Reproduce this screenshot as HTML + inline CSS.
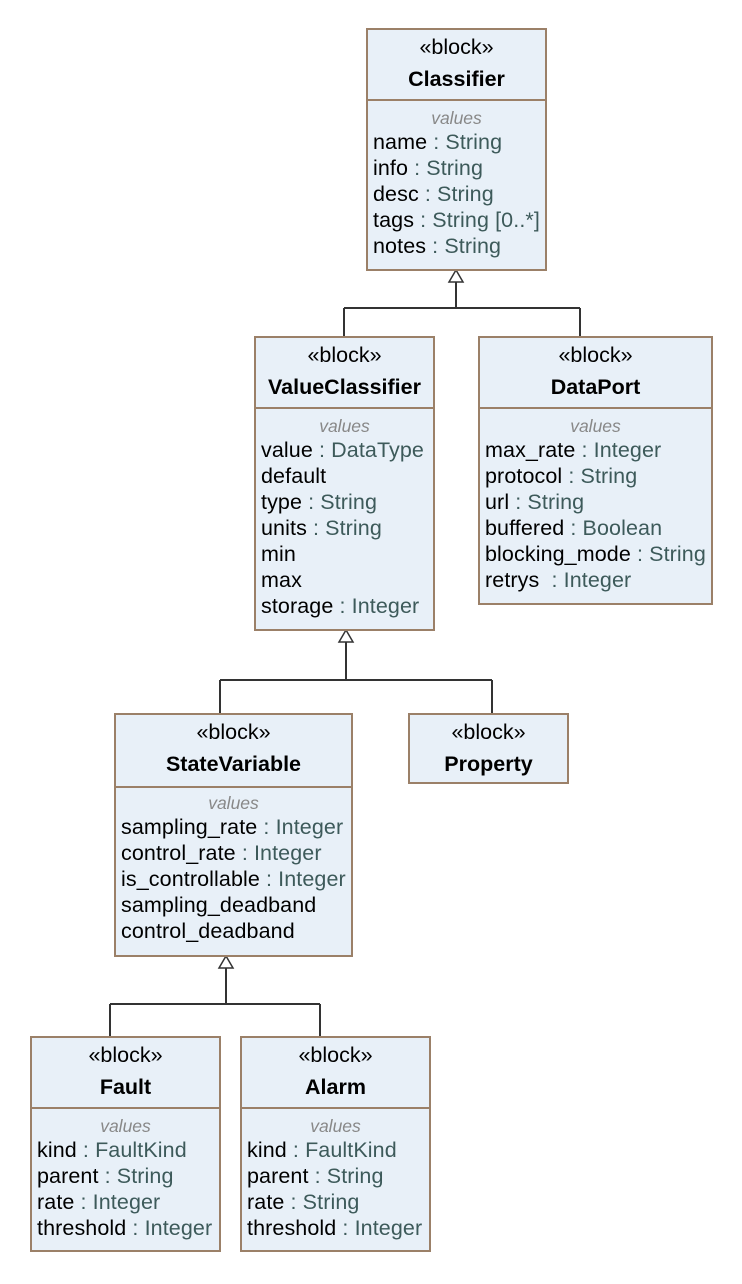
<!DOCTYPE html>
<html><head><style>
body{margin:0;width:742px;height:1284px;background:#fff;position:relative;font-family:"Liberation Sans",sans-serif;overflow:hidden}
.b{position:absolute;box-sizing:border-box;border:2px solid #9b8068;background:#e8f0f8}
.h{border-bottom:2px solid #9b8068;text-align:center;box-sizing:border-box;font-size:21.5px;color:#000}
.h .s{position:absolute;left:0;right:0;top:5px}
.h .n{position:absolute;left:0;right:0;top:37px;font-weight:bold}
.v{position:absolute;left:0;right:0;top:78px;text-align:center;font-style:italic;color:#888;font-size:17.5px}
.a{position:absolute;left:5px;top:99px;font-size:21.5px;line-height:26px;color:#000;white-space:nowrap;letter-spacing:0.1px}
.t{color:#3d5a5a}
svg{position:absolute;left:0;top:0}
</style></head><body>
<svg width="742" height="1284">
<g stroke="#333" stroke-width="2" fill="none">
<path d="M456 282V308M344 308H580M344 308V336M580 308V336"/>
<path d="M346 642V680M220 680H492M220 680V713M492 680V713"/>
<path d="M226 968V1004M110 1004H320M110 1004V1036M320 1004V1036"/>
</g>
<g stroke="#333" stroke-width="1.5" fill="#fff">
<path d="M456 270L449 282H463Z"/><path d="M346 630L339 642H353Z"/><path d="M226 956L219 968H233Z"/>
</g>
</svg>

<div class="b" style="left:366px;top:28px;width:181px;height:243px">
<div class="h" style="height:71px"><div class="s">«block»</div><div class="n">Classifier</div></div>
<div class="v">values</div>
<div class="a">name <span class="t">: String</span><br>info <span class="t">: String</span><br>desc <span class="t">: String</span><br>tags <span class="t">: String [0..*]</span><br>notes <span class="t">: String</span></div>
</div>

<div class="b" style="left:254px;top:336px;width:181px;height:295px">
<div class="h" style="height:71px"><div class="s">«block»</div><div class="n">ValueClassifier</div></div>
<div class="v">values</div>
<div class="a">value <span class="t">: DataType</span><br>default<br>type <span class="t">: String</span><br>units <span class="t">: String</span><br>min<br>max<br>storage <span class="t">: Integer</span></div>
</div>

<div class="b" style="left:478px;top:336px;width:235px;height:269px">
<div class="h" style="height:71px"><div class="s">«block»</div><div class="n">DataPort</div></div>
<div class="v">values</div>
<div class="a">max_rate <span class="t">: Integer</span><br>protocol <span class="t">: String</span><br>url <span class="t">: String</span><br>buffered <span class="t">: Boolean</span><br>blocking_mode <span class="t">: String</span><br>retrys &nbsp;<span class="t">: Integer</span></div>
</div>

<div class="b" style="left:114px;top:713px;width:239px;height:244px">
<div class="h" style="height:73px"><div class="s">«block»</div><div class="n">StateVariable</div></div>
<div class="v">values</div>
<div class="a">sampling_rate <span class="t">: Integer</span><br>control_rate <span class="t">: Integer</span><br>is_controllable <span class="t">: Integer</span><br>sampling_deadband<br>control_deadband</div>
</div>

<div class="b" style="left:408px;top:713px;width:161px;height:71px">
<div class="h" style="height:67px;border-bottom:none"><div class="s">«block»</div><div class="n">Property</div></div>
</div>

<div class="b" style="left:30px;top:1036px;width:191px;height:216px">
<div class="h" style="height:71px"><div class="s">«block»</div><div class="n">Fault</div></div>
<div class="v">values</div>
<div class="a">kind <span class="t">: FaultKind</span><br>parent <span class="t">: String</span><br>rate <span class="t">: Integer</span><br>threshold <span class="t">: Integer</span></div>
</div>

<div class="b" style="left:240px;top:1036px;width:191px;height:216px">
<div class="h" style="height:71px"><div class="s">«block»</div><div class="n">Alarm</div></div>
<div class="v">values</div>
<div class="a">kind <span class="t">: FaultKind</span><br>parent <span class="t">: String</span><br>rate <span class="t">: String</span><br>threshold <span class="t">: Integer</span></div>
</div>
</body></html>
